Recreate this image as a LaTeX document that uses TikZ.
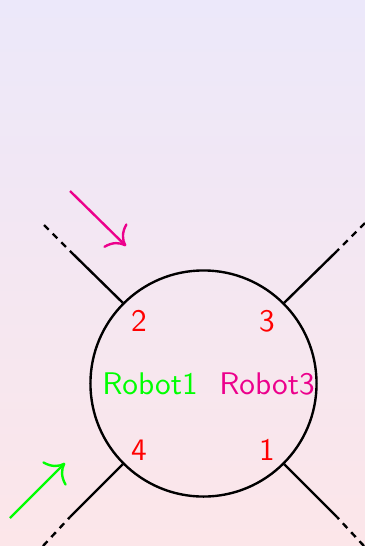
\documentclass[tikz,border=0pt]{standalone}
\usetikzlibrary{positioning,arrows.meta}
\definecolor{topbg}{RGB}{236,232,250}
\definecolor{botbg}{RGB}{252,230,233}
\definecolor{robmag}{RGB}{236,0,140}
\tikzset{
  port/.style={thick},
  stub/.style={thick, dash pattern=on 2.2pt off 1.9pt},
  num/.style={text=red, font=\sffamily\fontsize{10.5}{12}\selectfont},
  rob/.style={font=\sffamily\fontsize{10.5}{12}\selectfont},
  push/.style={thick, -{To[scale=1.6]}}
}
\begin{document}
\begin{tikzpicture}[x=0.0118cm, y=-0.0118cm]
  % background
  \shade[top color=topbg, bottom color=botbg] (0,0) rectangle (365,546);
  \useasboundingbox (0,0) rectangle (365,546);

  \node[draw, thick, circle, minimum size=2.667cm, inner sep=0pt] (ring) at (203.5,383.5) {};

  % ends of the four legs
  \coordinate (nw) at (70,251);   \coordinate (nwd) at (44,225);
  \coordinate (ne) at (337,251);  \coordinate (ned) at (365,223);
  \coordinate (sw) at (70,517);   \coordinate (swd) at (43,546);
  \coordinate (se) at (337,517);  \coordinate (sed) at (364,546);

  \draw[port] (ring.135) -- (nw);
  \draw[port] (ring.45) -- (ne);
  \draw[port] (ring.-135) -- (sw);
  \draw[port] (ring.-45) -- (se);
  \draw[stub] (nwd) -- (nw);
  \draw[stub] (ned) -- (ne);
  \draw[stub] (swd) -- (sw);
  \draw[stub] (sed) -- (se);

  \node[num] (p2) at (139,321) {2};
  \node[num] (p3) at (267,321) {3};
  \node[num] (p4) at (139,450) {4};
  \node[num] (p1) at (267,450) {1};

  \node[rob, text=green] (r1) at (150,384) {Robot1};
  \node[rob, text=robmag] (r3) at (267,384) {Robot3};

  % incoming robots
  \coordinate (m0) at (70,191);  \coordinate (m1) at (126,246);
  \coordinate (g0) at (10,518);  \coordinate (g1) at (65,463);
  \draw[push, robmag] (m0) -- (m1);
  \draw[push, green] (g0) -- (g1);
\end{tikzpicture}
\end{document}
